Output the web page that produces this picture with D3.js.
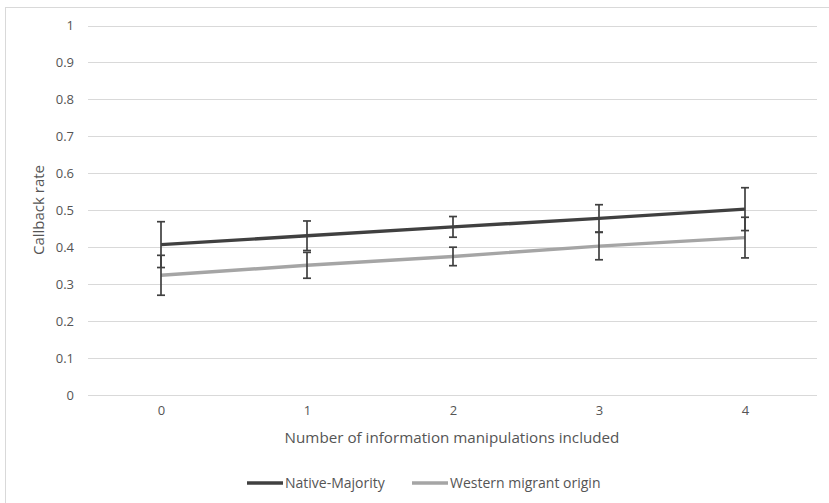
<!DOCTYPE html>
<html>
<head>
<meta charset="utf-8">
<script src="https://cdn.jsdelivr.net/npm/d3@7"></script>
<style>
  body { margin: 0; background: #fff; }
  svg { font-family: "Open Sans", "Liberation Sans", sans-serif; }
</style>
</head>
<body>
<svg width="829" height="503"></svg>
<script>
// values
var categories = ["0", "1", "2", "3", "4"];
var nativeMajority = [0.407, 0.431, 0.455, 0.478, 0.503];
var nativeErr = [0.062, 0.040, 0.028, 0.037, 0.058];
var westernMigrant = [0.324, 0.351, 0.375, 0.403, 0.426];
var westernErr = [0.054, 0.035, 0.025, 0.037, 0.055];
var yTicks = [0, 0.1, 0.2, 0.3, 0.4, 0.5, 0.6, 0.7, 0.8, 0.9, 1];

var series = [
  {name: "Native-Majority", values: nativeMajority, err: nativeErr, color: "#404040"},
  {name: "Western migrant origin", values: westernMigrant, err: westernErr, color: "#a5a5a5"}
];

var svg = d3.select("svg");

// chart border
svg.append("rect")
  .attr("x", 5.5).attr("y", 7.5)
  .attr("width", 840).attr("height", 520)
  .attr("fill", "none")
  .attr("stroke", "#d9d9d9");

var x = d3.scalePoint().domain(categories).range([161, 745]);
var y = d3.scaleLinear().domain([0, 1]).range([395, 25.5]);

// gridlines
svg.append("g")
  .selectAll("line")
  .data(yTicks)
  .join("line")
  .attr("x1", 88).attr("x2", 817)
  .attr("y1", function(d){ return Math.round(y(d)) + 0.5; })
  .attr("y2", function(d){ return Math.round(y(d)) + 0.5; })
  .attr("stroke", "#d9d9d9")
  .attr("stroke-width", 1.2);

var yAxis = svg.append("g")
  .attr("transform", "translate(74,0)")
  .call(d3.axisLeft(y).tickValues(yTicks).tickSize(0).tickPadding(0)
    .tickFormat(function(d){ return d3.format("")(+d.toFixed(1)); }));
yAxis.select(".domain").remove();

var xAxis = svg.append("g")
  .attr("transform", "translate(0,406)")
  .call(d3.axisBottom(x).tickSize(0).tickPadding(0));
xAxis.select(".domain").remove();

svg.selectAll(".tick text")
  .attr("font-size", 13)
  .attr("font-family", "Open Sans, sans-serif")
  .attr("fill", "#555");

svg.append("text")
  .attr("x", 452).attr("y", 443)
  .attr("text-anchor", "middle")
  .attr("fill", "#555")
  .attr("font-size", 15.2)
  .text("Number of information manipulations included");

svg.append("text")
  .attr("transform", "translate(44,210) rotate(-90)")
  .attr("text-anchor", "middle")
  .attr("fill", "#555")
  .attr("font-size", 15)
  .text("Callback rate");

var line = d3.line()
  .x(function(d, i){ return x(categories[i]); })
  .y(function(d){ return y(d); });

series.forEach(function(s){
  svg.append("path")
    .datum(s.values)
    .attr("d", line)
    .attr("fill", "none")
    .attr("stroke", s.color)
    .attr("stroke-width", 3.4);
});

// error bars
series.forEach(function(s){
  var g = svg.append("g").attr("stroke", "#404040").attr("stroke-width", 1.7);
  s.values.forEach(function(v, i){
    var cx = x(categories[i]);
    var top = y(v + s.err[i]), bot = y(v - s.err[i]);
    g.append("line").attr("x1", cx).attr("x2", cx).attr("y1", top).attr("y2", bot);
    g.append("line").attr("x1", cx - 4).attr("x2", cx + 4).attr("y1", top).attr("y2", top);
    g.append("line").attr("x1", cx - 4).attr("x2", cx + 4).attr("y1", bot).attr("y2", bot);
  });
});

// legend
var legend = svg.append("g").attr("transform", "translate(247,483)");
var lx = [0, 165];
series.forEach(function(s, i){
  var item = legend.append("g").attr("transform", "translate(" + lx[i] + ",0)");
  item.append("line")
    .attr("x1", 0).attr("x2", 36).attr("y1", 0).attr("y2", 0)
    .attr("stroke", s.color).attr("stroke-width", 3.4);
  item.append("text")
    .attr("x", 38).attr("y", 5)
    .attr("fill", "#555")
    .attr("font-size", 14)
    .text(s.name);
});
</script>
</body>
</html>
